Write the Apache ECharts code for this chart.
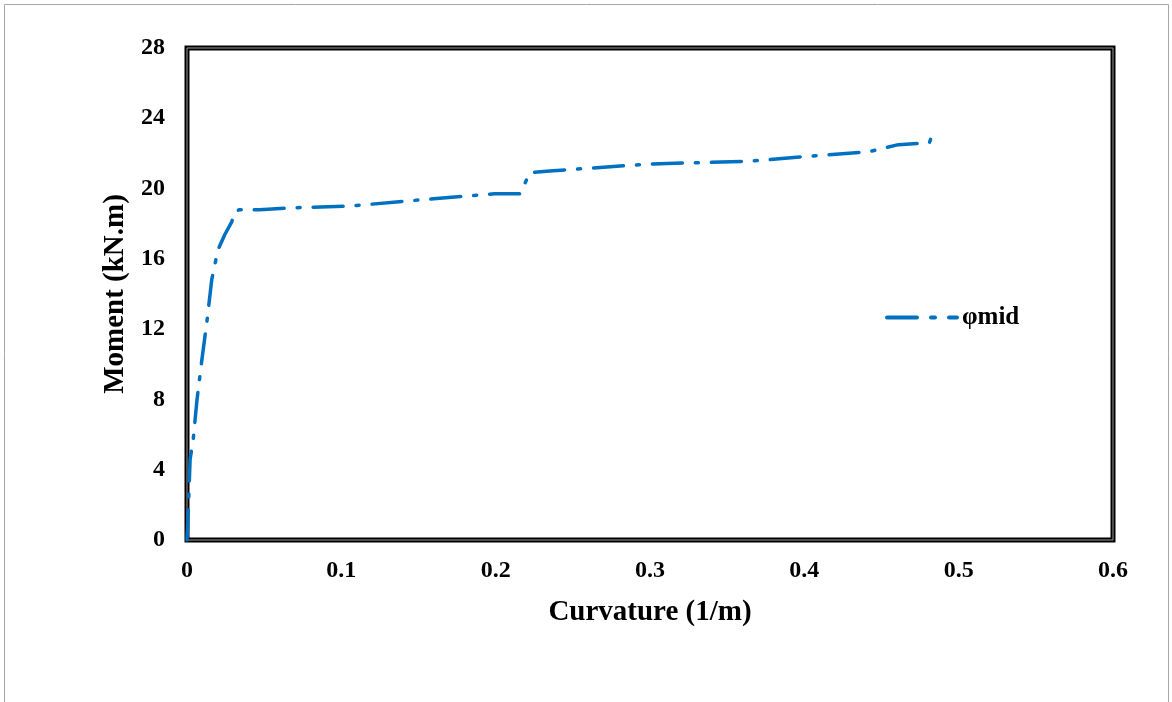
<!DOCTYPE html>
<html>
<head>
<meta charset="utf-8">
<script src="https://cdn.jsdelivr.net/npm/echarts@6/dist/echarts.min.js"></script>
<style>
  html, body { margin: 0; padding: 0; background: #fff; }
  #chart { width: 1172px; height: 702px; }
</style>
</head>
<body>
<div id="chart"></div>
<script>
// curvature (1/m) vs moment (kN.m)
const curvature = [0, 0.001, 0.002, 0.004, 0.0065, 0.0097, 0.013, 0.016, 0.020, 0.0246, 0.029, 0.031, 0.034, 0.047, 0.067, 0.105, 0.157, 0.199, 0.2155, 0.218, 0.219, 0.222, 0.235, 0.30, 0.364, 0.397, 0.442, 0.461, 0.481, 0.483, 0.487]
const moment = [0, 2.0, 4.6, 5.7, 8.0, 10.3, 12.5, 14.8, 16.5, 17.4, 18.1, 18.7, 18.8, 18.8, 18.9, 19.0, 19.4, 19.7, 19.7, 19.9, 20.3, 20.9, 21.0, 21.4, 21.55, 21.8, 22.1, 22.5, 22.6, 23.1, 22.9]

const font = 'Liberation Serif'
const myChart = echarts.init(document.getElementById('chart'))
myChart.setOption({
  backgroundColor: '#fff',
  animation: false,
  graphic: [
    {
      type: 'rect',
      shape: { x: 4.5, y: 4.5, width: 1164, height: 700 },
      style: { fill: 'none', stroke: '#a6a6a6', lineWidth: 1 },
      silent: true
    }
  ],
  grid: [
    {
      left: 187, top: 48, right: 59, bottom: 162,
      containLabel: false,
      show: true,
      borderColor: '#000',
      borderWidth: 5
    },
    {
      left: 187, top: 48, right: 59, bottom: 162,
      containLabel: false,
      show: true,
      borderColor: '#9a9a9a',
      borderWidth: 1
    }
  ],
  legend: {
    data: ['φmid'],
    left: 880,
    top: 300,
    itemWidth: 70,
    itemHeight: 14,
    itemGap: 6,
    itemStyle: { color: 'transparent', borderWidth: 0 },
    lineStyle: { width: 4, type: [30, 14, 4, 14] },
    textStyle: { fontFamily: font, fontWeight: 'bold', fontSize: 25, color: '#000' }
  },
  xAxis: [
    {
      type: 'value',
      gridIndex: 0,
      min: 0,
      max: 0.6,
      interval: 0.1,
      name: 'Curvature (1/m)',
      nameLocation: 'middle',
      nameGap: 58,
      nameTextStyle: { fontFamily: font, fontWeight: 'bold', fontSize: 29, color: '#000' },
      axisLine: { show: false },
      axisTick: { show: false },
      splitLine: { show: false },
      axisLabel: {
        fontFamily: font, fontWeight: 'bold', fontSize: 24, color: '#000', margin: 19,
        formatter: v => String(Math.round(v * 10) / 10)
      }
    },
    { type: 'value', gridIndex: 1, min: 0, max: 0.6, show: false }
  ],
  yAxis: [
    {
      type: 'value',
      gridIndex: 0,
      min: 0,
      max: 28,
      interval: 4,
      name: 'Moment (kN.m)',
      nameLocation: 'middle',
      nameGap: 55,
      nameTextStyle: { fontFamily: font, fontWeight: 'bold', fontSize: 29, color: '#000' },
      axisLine: { show: false },
      axisTick: { show: false },
      splitLine: { show: false },
      axisLabel: { fontFamily: font, fontWeight: 'bold', fontSize: 24, color: '#000', margin: 22 }
    },
    { type: 'value', gridIndex: 1, min: 0, max: 28, show: false }
  ],
  series: [
    {
      name: 'φmid',
      type: 'line',
      xAxisIndex: 0,
      yAxisIndex: 0,
      showSymbol: false,
      symbol: 'none',
      smooth: false,
      color: '#0070C0',
      lineStyle: { color: '#0070C0', width: 3.5, type: [30, 13, 3, 13], cap: 'round' },
      data: curvature.map((c, i) => [c, moment[i]])
    }
  ]
})
</script>
</body>
</html>
